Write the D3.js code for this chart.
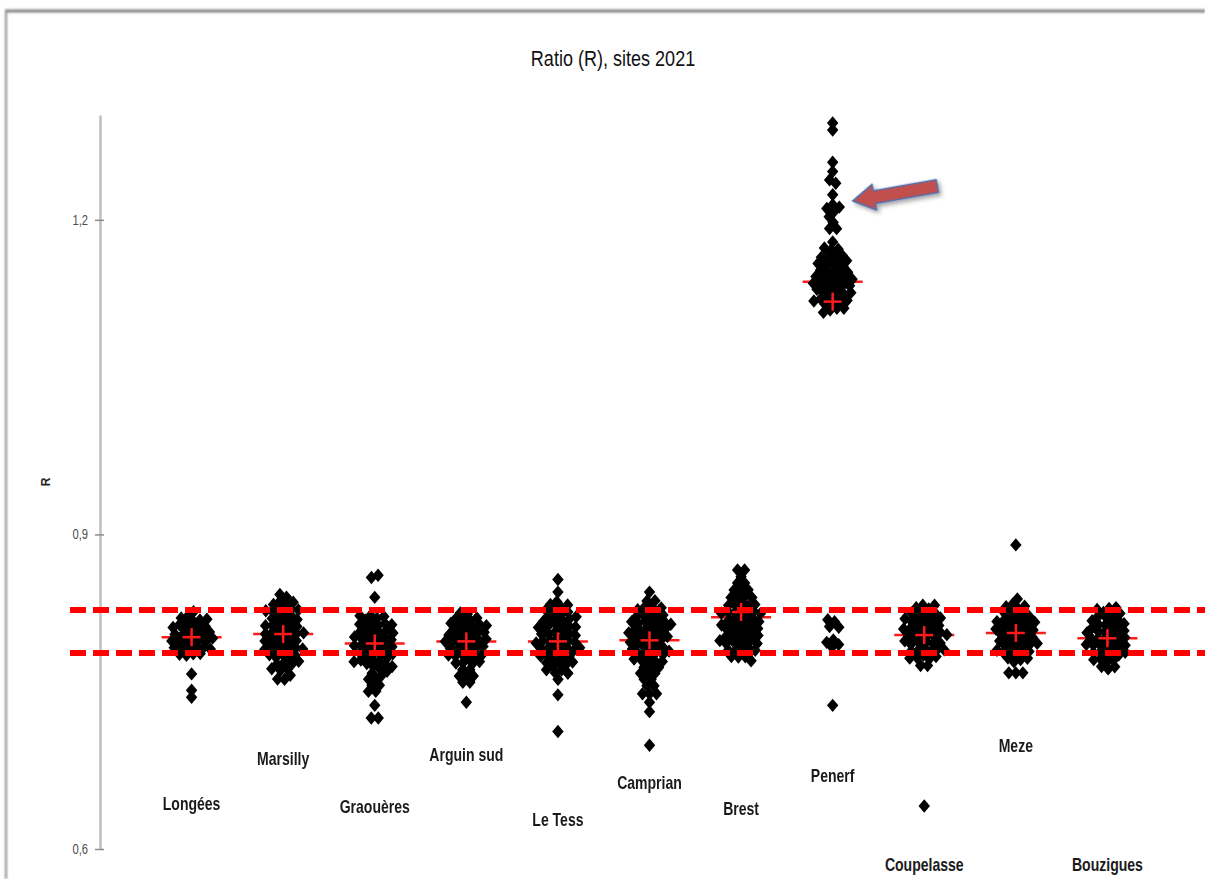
<!DOCTYPE html>
<html>
<head>
<meta charset="utf-8">
<script src="https://cdnjs.cloudflare.com/ajax/libs/d3/7.8.5/d3.min.js"></script>
<style>
  body { margin: 0; background: #fff; }
  text { font-family: "Liberation Sans", "DejaVu Sans", sans-serif; }
</style>
</head>
<body>
<div id="chart"></div>
<script>
// sites, in the order of the x axis
var sites = ["Longées", "Marsilly", "Graouères", "Arguin sud", "Le Tess", "Camprian",
             "Brest", "Penerf", "Coupelasse", "Meze", "Bouzigues"];

// R values per site
var longees = [0.826,
  0.819, 0.818, 0.820, 0.817, 0.819,
  0.812, 0.813, 0.811, 0.812, 0.814, 0.811,
  0.806, 0.805, 0.807, 0.806, 0.804, 0.806, 0.805,
  0.799, 0.800, 0.798, 0.799, 0.801, 0.798, 0.800,
  0.793, 0.792, 0.794, 0.793, 0.791, 0.793,
  0.786, 0.787, 0.785, 0.786,
  0.767, 0.751, 0.745];
var marsilly = [0.842, 0.840,
  0.833, 0.834, 0.832, 0.833,
  0.826, 0.827, 0.825, 0.826, 0.828, 0.825,
  0.819, 0.820, 0.818, 0.819, 0.821, 0.818,
  0.812, 0.813, 0.811, 0.812, 0.814, 0.811, 0.812,
  0.805, 0.806, 0.804, 0.805, 0.807, 0.804, 0.805,
  0.798, 0.799, 0.797, 0.798, 0.800, 0.797, 0.798,
  0.791, 0.792, 0.790, 0.791, 0.793, 0.790,
  0.784, 0.785, 0.783, 0.784, 0.786,
  0.778, 0.779, 0.777, 0.778,
  0.773, 0.772, 0.773, 0.766, 0.762, 0.762];
var graoueres = [0.861, 0.859, 0.840,
  0.821, 0.822, 0.820, 0.821,
  0.814, 0.815, 0.813, 0.814, 0.816, 0.813,
  0.807, 0.808, 0.806, 0.807, 0.809, 0.806, 0.807,
  0.800, 0.801, 0.799, 0.800, 0.802, 0.799, 0.800,
  0.793, 0.794, 0.792, 0.793, 0.795, 0.792, 0.793,
  0.786, 0.787, 0.785, 0.786, 0.788, 0.785, 0.786,
  0.779, 0.780, 0.778, 0.779, 0.781, 0.778,
  0.774, 0.773, 0.775, 0.774,
  0.768, 0.768, 0.762, 0.762, 0.756, 0.756, 0.751, 0.751,
  0.737, 0.725, 0.725];
var arguinSud = [0.820, 0.821, 0.819, 0.820, 0.822,
  0.813, 0.814, 0.812, 0.813, 0.815, 0.812, 0.813,
  0.806, 0.807, 0.805, 0.806, 0.808, 0.805, 0.806,
  0.799, 0.800, 0.798, 0.799, 0.801, 0.798, 0.799,
  0.792, 0.793, 0.791, 0.792, 0.794, 0.791, 0.792,
  0.785, 0.786, 0.784, 0.785, 0.787, 0.784,
  0.779, 0.780, 0.778, 0.779,
  0.771, 0.771, 0.765, 0.765, 0.765, 0.759, 0.759,
  0.740];
var leTess = [0.857, 0.845,
  0.833, 0.834, 0.832,
  0.826, 0.827, 0.825, 0.826, 0.828,
  0.819, 0.820, 0.818, 0.819, 0.821, 0.818,
  0.812, 0.813, 0.811, 0.812, 0.814, 0.811,
  0.805, 0.806, 0.804, 0.805, 0.807, 0.804, 0.805,
  0.798, 0.799, 0.797, 0.798, 0.800, 0.797, 0.798,
  0.791, 0.792, 0.790, 0.791, 0.793, 0.790, 0.791,
  0.784, 0.785, 0.783, 0.784, 0.786, 0.783,
  0.777, 0.778, 0.776, 0.777, 0.779,
  0.772, 0.771, 0.773,
  0.768, 0.762, 0.747, 0.712];
var camprian = [0.845, 0.836, 0.836,
  0.829, 0.830, 0.828, 0.829,
  0.822, 0.823, 0.821, 0.822, 0.824, 0.821,
  0.815, 0.816, 0.814, 0.815, 0.817, 0.814, 0.815,
  0.808, 0.809, 0.807, 0.808, 0.810, 0.807, 0.808,
  0.801, 0.802, 0.800, 0.801, 0.803, 0.800, 0.801,
  0.794, 0.795, 0.793, 0.794, 0.796, 0.793, 0.794,
  0.787, 0.788, 0.786, 0.787, 0.789, 0.786,
  0.780, 0.781, 0.779, 0.780, 0.782,
  0.774, 0.774, 0.774, 0.768, 0.768, 0.768, 0.762, 0.762, 0.756, 0.756,
  0.748, 0.748, 0.748, 0.740, 0.731,
  0.699];
var brest = [0.866, 0.866, 0.859, 0.854, 0.854, 0.847, 0.847, 0.847, 0.840, 0.840, 0.840, 0.840,
  0.832, 0.833, 0.831, 0.832, 0.834,
  0.825, 0.826, 0.824, 0.825, 0.827, 0.824, 0.825,
  0.818, 0.819, 0.817, 0.818, 0.820, 0.817, 0.818,
  0.811, 0.812, 0.810, 0.811, 0.813, 0.810, 0.811,
  0.804, 0.805, 0.803, 0.804, 0.806, 0.803, 0.804,
  0.797, 0.798, 0.796, 0.797, 0.799, 0.796,
  0.790, 0.791, 0.789, 0.790, 0.792,
  0.784, 0.785, 0.783,
  0.780];
var penerf = [1.292, 1.286, 1.255, 1.246, 1.238, 1.235, 1.224, 1.212, 1.209, 1.211, 1.213,
  1.203, 1.197, 1.192, 1.192, 1.179,
  1.172, 1.173, 1.171,
  1.165, 1.166, 1.164, 1.165,
  1.158, 1.159, 1.157, 1.158, 1.160,
  1.151, 1.152, 1.150, 1.151, 1.153, 1.150,
  1.144, 1.145, 1.143, 1.144, 1.146, 1.143, 1.144,
  1.137, 1.138, 1.136, 1.137, 1.139, 1.136, 1.137,
  1.130, 1.131, 1.129, 1.130, 1.132, 1.129, 1.130,
  1.123, 1.124, 1.122, 1.123, 1.125, 1.122,
  1.116, 1.117, 1.115,
  1.112,
  0.818, 0.816, 0.813, 0.812, 0.799, 0.797, 0.795, 0.793,
  0.737];
var coupelasse = [0.831, 0.832, 0.830,
  0.825, 0.826, 0.824, 0.825, 0.827,
  0.818, 0.819, 0.817, 0.818, 0.820, 0.817,
  0.811, 0.812, 0.810, 0.811, 0.813, 0.810, 0.811,
  0.804, 0.805, 0.803, 0.804, 0.806, 0.803, 0.804,
  0.797, 0.798, 0.796, 0.797, 0.799, 0.796, 0.797,
  0.790, 0.791, 0.789, 0.790, 0.792, 0.789,
  0.784, 0.785, 0.783, 0.784, 0.786,
  0.775, 0.775,
  0.641];
var meze = [0.890, 0.838,
  0.830, 0.831, 0.829, 0.830,
  0.823, 0.824, 0.822, 0.823, 0.825, 0.822,
  0.816, 0.817, 0.815, 0.816, 0.818, 0.815, 0.816,
  0.809, 0.810, 0.808, 0.809, 0.811, 0.808, 0.809,
  0.802, 0.803, 0.801, 0.802, 0.804, 0.801, 0.802,
  0.795, 0.796, 0.794, 0.795, 0.797, 0.794, 0.795,
  0.788, 0.789, 0.787, 0.788, 0.790, 0.787,
  0.782, 0.783, 0.781, 0.782,
  0.768, 0.768, 0.768];
var bouzigues = [0.829, 0.830, 0.828,
  0.822, 0.823, 0.821, 0.822, 0.824,
  0.815, 0.816, 0.814, 0.815, 0.817, 0.814,
  0.808, 0.809, 0.807, 0.808, 0.810, 0.807, 0.808,
  0.801, 0.802, 0.800, 0.801, 0.803, 0.800, 0.801,
  0.794, 0.795, 0.793, 0.794, 0.796, 0.793, 0.794,
  0.787, 0.788, 0.786, 0.787, 0.789, 0.786,
  0.781, 0.782, 0.780, 0.781,
  0.774, 0.774, 0.774];

var siteValues = [longees, marsilly, graoueres, arguinSud, leTess, camprian,
                  brest, penerf, coupelasse, meze, bouzigues];

// mean of each site (red line) and red cross
var meanLine  = [0.802, 0.805, 0.796, 0.798, 0.798, 0.799, 0.821, 1.141, 0.804, 0.806, 0.801];
var meanCross = [0.802, 0.805, 0.796, 0.798, 0.798, 0.799, 0.826, 1.122, 0.804, 0.806, 0.801];

// red dashed reference band
var limits = [0.787, 0.828];

// R level of each site label
var labelR = [0.642, 0.685, 0.639, 0.688, 0.626, 0.662, 0.637, 0.668, 0.584, 0.697, 0.584];

var yTicks = [0.6, 0.9, 1.2];

var W = 1205, H = 879;

var x = d3.scaleLinear().domain([0, 12]).range([100, 1199]);
var y = d3.scaleLinear().domain([0.6, 1.3]).range([849, 115]);

var svg = d3.select("#chart").append("svg")
    .attr("width", W)
    .attr("height", H);

var defs = svg.append("defs");
var shadow = defs.append("filter").attr("id", "shadow")
    .attr("x", "-20%").attr("y", "-40%").attr("width", "150%").attr("height", "200%");
shadow.append("feDropShadow")
    .attr("dx", 2).attr("dy", 3).attr("stdDeviation", 2)
    .attr("flood-color", "#000").attr("flood-opacity", 0.35);

var frameBlur = defs.append("filter").attr("id", "frameblur");
frameBlur.append("feGaussianBlur").attr("stdDeviation", 1.2);

// the source picture is a bit soft, blur the marks slightly
var soft = defs.append("filter").attr("id", "soft");
soft.append("feGaussianBlur").attr("stdDeviation", 0.7);

// chart frame (top and left edges of the pasted picture)
var frame = svg.append("g").attr("filter", "url(#frameblur)");
frame.append("line")
    .attr("x1", 5).attr("x2", W).attr("y1", 11).attr("y2", 11)
    .attr("stroke", "#7f7f7f").attr("stroke-width", 3);
frame.append("line")
    .attr("x1", 6).attr("x2", 6).attr("y1", 11).attr("y2", H)
    .attr("stroke", "#8c8c8c").attr("stroke-width", 2);

// title
svg.append("text")
    .attr("transform", "translate(613,60) scale(0.82,1)")
    .attr("text-anchor", "middle")
    .attr("dominant-baseline", "middle")
    .style("font-size", "22px")
    .style("fill", "#111")
    .text("Ratio (R), sites 2021");

// y axis
var yAxis = svg.append("g")
    .attr("transform", "translate(" + x(0) + ",0)")
    .call(d3.axisLeft(y)
        .tickValues(yTicks)
        .tickSizeInner(5)
        .tickSizeOuter(0)
        .tickPadding(10)
        .tickFormat(function(d) { return d3.format(".1f")(d).replace(".", ","); }));

yAxis.select(".domain")
    .attr("stroke", "#bfbfbf")
    .attr("stroke-width", 2.5);
yAxis.selectAll(".tick line")
    .attr("x1", 4)
    .attr("stroke", "#8c8c8c")
    .attr("stroke-width", 1.5);
yAxis.selectAll(".tick text")
    .style("font-size", "14px")
    .style("font-family", "'Liberation Sans', sans-serif")
    .attr("transform", "scale(0.8,1)")
    .attr("fill", "#4d4d4d");

// y axis title
svg.append("text")
    .attr("transform", "translate(47," + ((y(0.6) + y(1.3)) / 2) + ") rotate(-90)")
    .attr("text-anchor", "middle")
    .attr("dominant-baseline", "middle")
    .style("font-size", "12px")
    .style("font-weight", "bold")
    .style("fill", "#262626")
    .text("R");

// mean lines behind the points
svg.selectAll(".mean-line")
    .data(meanLine)
    .enter()
    .append("line")
    .attr("class", "mean-line")
    .attr("x1", function(d, i) { return x(i + 1) - 30; })
    .attr("x2", function(d, i) { return x(i + 1) + 30; })
    .attr("y1", function(d) { return y(d); })
    .attr("y2", function(d) { return y(d); })
    .attr("stroke", "#ff1a1a")
    .attr("stroke-width", 2.5);

// build the nodes and spread them as a swarm around each site
var nodes = [];
siteValues.forEach(function(vals, i) {
    vals.forEach(function(v) {
        nodes.push({site: i, value: v, x: x(i + 1), y: y(v)});
    });
});

var sim = d3.forceSimulation(nodes)
    .force("x", d3.forceX(function(d) { return x(d.site + 1); }).strength(0.06))
    .force("y", d3.forceY(function(d) { return y(d.value); }).strength(0.9))
    .force("collide", d3.forceCollide(3.5).strength(0.8))
    .stop();

for (var t = 0; t < 300; t++) sim.tick();

// diamond marker, a bit wider than d3's own
var diamond = {
    draw: function(ctx, size) {
        var h = Math.sqrt(size) * 0.6, w = h * 0.85;
        ctx.moveTo(0, -h);
        ctx.lineTo(w, 0);
        ctx.lineTo(0, h);
        ctx.lineTo(-w, 0);
        ctx.closePath();
    }
};

svg.append("g")
    .attr("filter", "url(#soft)")
    .selectAll(".dot")
    .data(nodes)
    .enter()
    .append("path")
    .attr("class", "dot")
    .attr("transform", function(d) { return "translate(" + d.x + "," + d.y + ")"; })
    .attr("d", d3.symbol().type(diamond).size(125))
    .attr("fill", "#000");

// red crosses for the means
var crosses = svg.selectAll(".cross")
    .data(meanCross)
    .enter()
    .append("g")
    .attr("class", "cross")
    .attr("transform", function(d, i) { return "translate(" + x(i + 1) + "," + y(d) + ")"; });

crosses.append("line")
    .attr("x1", -9).attr("x2", 9).attr("y1", 0).attr("y2", 0)
    .attr("stroke", "#ff1a1a").attr("stroke-width", 2.5);
crosses.append("line")
    .attr("x1", 0).attr("x2", 0).attr("y1", -9).attr("y2", 9)
    .attr("stroke", "#ff1a1a").attr("stroke-width", 2.5);

// dashed reference lines, drawn over the points
svg.append("g")
    .attr("filter", "url(#soft)")
    .selectAll(".limit")
    .data(limits)
    .enter()
    .append("line")
    .attr("class", "limit")
    .attr("x1", x(0) - 30)
    .attr("x2", W)
    .attr("y1", function(d) { return y(d); })
    .attr("y2", function(d) { return y(d); })
    .attr("stroke", "#ff0000")
    .attr("stroke-width", 6)
    .attr("stroke-dasharray", "16 7");

// site labels
svg.selectAll(".site-label")
    .data(sites)
    .enter()
    .append("text")
    .attr("class", "site-label")
    .attr("transform", function(d, i) {
        return "translate(" + x(i + 1) + "," + y(labelR[i]) + ") scale(0.78,1)";
    })
    .attr("text-anchor", "middle")
    .attr("dominant-baseline", "middle")
    .style("font-size", "18px")
    .style("font-weight", "bold")
    .style("fill", "#1a1a1a")
    .text(function(d) { return d; });

// arrow pointing at the Penerf outliers
var arrow = svg.append("g")
    .attr("transform", "translate(" + (x(8) + 20) + "," + y(1.218) + ") rotate(-10)")
    .attr("filter", "url(#shadow)");

arrow.append("path")
    .attr("d", "M0,0 L22,-13 L22,-6.5 L86,-6.5 L86,6.5 L22,6.5 L22,13 Z")
    .attr("fill", "#c0504d")
    .attr("stroke", "#4f6fb0")
    .attr("stroke-width", 1.5)
    .attr("stroke-linejoin", "round");
</script>
</body>
</html>
